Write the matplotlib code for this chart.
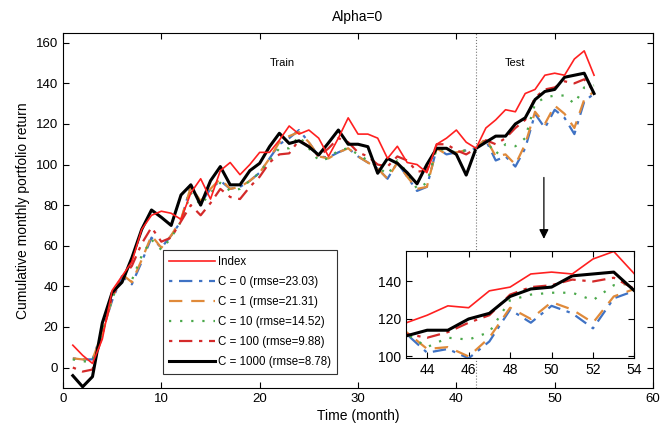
import matplotlib
matplotlib.use("Agg")
import matplotlib.pyplot as plt
import numpy as np

plt.rcParams['font.family'] = ['Liberation Sans', 'DejaVu Sans']

months = list(range(1, 55))

index_vals = [11, 6, 2, 14, 38, 45, 52, 68, 75, 77, 76, 73, 86, 93, 83, 97, 101, 95, 100, 106,
              106, 112, 119, 115, 117, 113, 104, 113, 123, 115, 115, 113, 103, 109, 101, 100, 96, 110, 113, 117,
              111, 108, 118, 122, 127, 126, 135, 137, 144, 145, 144, 152, 156, 144]
c0_vals = [4.5, 4, 4, 18, 33, 45, 41, 52, 64, 59, 65, 72, 90, 81, 88, 92, 88, 89, 92, 96,
           103, 110, 113, 117, 111, 104, 103.5, 106, 108, 104, 101, 98, 93, 101, 94, 87, 89, 108, 105, 106,
           107, 108, 112, 102, 104, 99, 108, 125, 118, 127, 123, 115, 131, 135]
c1_vals = [4.5, 4, 4, 17, 34, 46, 42, 53, 65, 59, 65, 73, 89, 82, 88, 93, 88, 89, 92, 96,
           103, 111, 114, 116, 111, 104, 103, 106, 108, 104, 101, 98, 93, 101, 94, 88, 89, 108, 105, 106,
           107, 108, 113, 104, 105, 100, 110, 126, 120, 129, 125, 118, 132, 136]
c10_vals = [4, 3, 3, 17, 34, 45, 43, 55, 63, 58, 64, 72, 86, 80, 86, 91, 87, 88, 92, 96,
            102, 108, 108, 114, 108, 102, 103, 107, 108, 105, 102, 99, 95, 102, 96, 88, 91, 108, 107, 106,
            107, 108, 112, 105, 110, 109, 113, 130, 133, 134, 134, 130, 138, 139]
c100_vals = [0, -2, -1, 16, 35, 44, 50, 61, 69, 62, 64, 72, 80, 75, 81, 88, 84, 83, 89, 94,
             101, 105, 105.5, 112, 109, 104, 108, 113, 111, 106, 104, 100, 99, 104, 102, 96.5, 97, 110, 110, 107,
             105, 108, 112, 110, 113, 118, 122, 133, 137, 138, 141, 140, 142, 136]
c1000_vals = [-4, -9.5, -4.5, 22, 37, 42, 54, 68, 77.6, 74, 70, 85, 90, 80, 92, 99, 90, 90, 97, 100.6,
              108.8, 115.4, 110.4, 111.7, 108.8, 104.7, 110.7, 117, 110, 110, 108.8, 95.7, 103, 100.6, 96, 90.5, 100, 108, 108, 105,
              94.8, 108, 111, 114, 114, 120, 123, 132, 136, 137, 143, 144, 145, 135]

labels = ['Index', 'C = 0 (rmse=23.03)', 'C = 1 (rmse=21.31)', 'C = 10 (rmse=14.52)',
          'C = 100 (rmse=9.88)', 'C = 1000 (rmse=8.78)']

styles = [
    dict(color='#ff2020', ls='-', lw=1.2),
    dict(color='#3f72c4', ls=(0, (1.5, 3, 6, 3)), lw=1.6),
    dict(color='#e08a3a', ls=(0, (6, 4)), lw=1.6),
    dict(color='#4aa84a', ls=(0, (1, 4)), lw=1.6),
    dict(color='#d42a2a', ls=(0, (1.5, 3, 6, 3)), lw=1.6),
    dict(color='#000000', ls='-', lw=2.2),
]
series = [index_vals, c0_vals, c1_vals, c10_vals, c100_vals, c1000_vals]
order = [1, 2, 3, 4, 5, 0]

fig = plt.figure(figsize=(6.63, 4.29), dpi=100)
ax = fig.add_axes([0.095, 0.096, 0.89, 0.828])

handles = [None] * 6
for i in order:
    h, = ax.plot(months, series[i], label=labels[i], **styles[i])
    handles[i] = h

ax.axvline(42, color='#777777', ls=':', lw=0.8)
ax.set_xlim(0, 60)
ax.set_ylim(-10, 165)
ax.set_xticks(range(0, 61, 10))
ax.set_yticks(range(0, 161, 20))
ax.tick_params(direction='in', top=True, right=True, labelsize=9.5, length=4)
ax.set_xlabel('Time (month)', fontsize=10, labelpad=3)
ax.set_ylabel('Cumulative monthly portfolio return', fontsize=10, labelpad=4)
ax.set_title('Alpha=0', fontsize=10, pad=8)
ax.text(22.3, 150, 'Train', fontsize=8, ha='center', va='center')
ax.text(46, 150, 'Test', fontsize=8, ha='center', va='center')
ax.annotate('', xy=(48.9, 62), xytext=(48.9, 95),
            arrowprops=dict(arrowstyle='-|>', color='black', lw=0.9, mutation_scale=14))

leg = ax.legend(handles=handles, loc='lower left', bbox_to_anchor=(0.16, 0.022),
                fontsize=8.3, handlelength=4.0, framealpha=1, fancybox=False,
                edgecolor='#333333', borderpad=0.5, labelspacing=0.7, handletextpad=0.3)
leg.get_frame().set_linewidth(0.8)

axin = fig.add_axes([0.613, 0.166, 0.344, 0.25], zorder=5)
axin.set_facecolor('white')
for i in order:
    axin.plot(months, series[i], **styles[i])
axin.set_xlim(43, 54)
axin.set_ylim(99.3, 156.5)
axin.set_xticks(range(44, 55, 2))
axin.set_yticks([100, 120, 140])
axin.tick_params(direction='in', top=True, right=True, labelsize=10, length=4)

fig.savefig('out.png', dpi=100)
